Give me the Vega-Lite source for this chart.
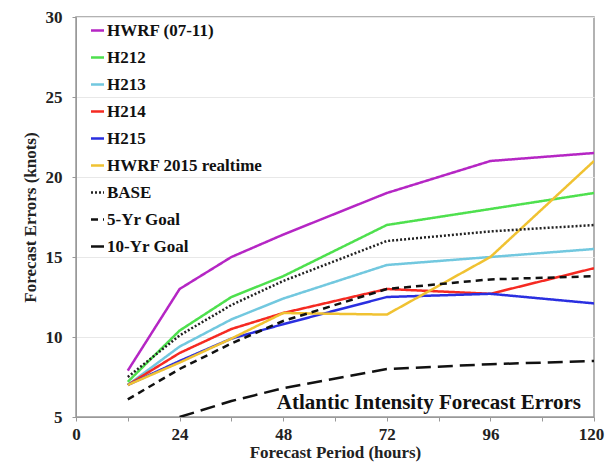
{
  "$schema": "https://vega.github.io/schema/vega-lite/v6.json",
  "width": 518,
  "height": 400,
  "autosize": {"type": "none"},
  "padding": {"left": 76, "top": 17, "right": 11, "bottom": 49},
  "background": "white",
  "config": {
    "view": {"stroke": "#999999", "strokeWidth": 1.5},
    "font": "Liberation Serif, serif",
    "axis": {"labelFont": "Liberation Serif, serif", "titleFont": "Liberation Serif, serif", "labelFontWeight": "bold", "titleFontWeight": "bold", "labelColor": "#222", "titleColor": "#222", "domainColor": "#999999", "tickColor": "#999999"}
  },
  "data": {"values": [
    {"series": "HWRF (07-11)", "hour": 12, "value": 7.9},
    {"series": "HWRF (07-11)", "hour": 24, "value": 13.0},
    {"series": "HWRF (07-11)", "hour": 36, "value": 15.0},
    {"series": "HWRF (07-11)", "hour": 48, "value": 16.4},
    {"series": "HWRF (07-11)", "hour": 72, "value": 19.0},
    {"series": "HWRF (07-11)", "hour": 96, "value": 21.0},
    {"series": "HWRF (07-11)", "hour": 120, "value": 21.5},
    {"series": "H212", "hour": 12, "value": 7.2},
    {"series": "H212", "hour": 24, "value": 10.4},
    {"series": "H212", "hour": 36, "value": 12.5},
    {"series": "H212", "hour": 48, "value": 13.8},
    {"series": "H212", "hour": 72, "value": 17.0},
    {"series": "H212", "hour": 96, "value": 18.0},
    {"series": "H212", "hour": 120, "value": 19.0},
    {"series": "H213", "hour": 12, "value": 7.0},
    {"series": "H213", "hour": 24, "value": 9.4},
    {"series": "H213", "hour": 36, "value": 11.1},
    {"series": "H213", "hour": 48, "value": 12.4},
    {"series": "H213", "hour": 72, "value": 14.5},
    {"series": "H213", "hour": 96, "value": 15.0},
    {"series": "H213", "hour": 120, "value": 15.5},
    {"series": "H214", "hour": 12, "value": 7.0},
    {"series": "H214", "hour": 24, "value": 9.0},
    {"series": "H214", "hour": 36, "value": 10.5},
    {"series": "H214", "hour": 48, "value": 11.5},
    {"series": "H214", "hour": 72, "value": 13.0},
    {"series": "H214", "hour": 96, "value": 12.7},
    {"series": "H214", "hour": 120, "value": 14.3},
    {"series": "H215", "hour": 12, "value": 7.0},
    {"series": "H215", "hour": 24, "value": 8.5},
    {"series": "H215", "hour": 36, "value": 9.9},
    {"series": "H215", "hour": 48, "value": 10.8},
    {"series": "H215", "hour": 72, "value": 12.5},
    {"series": "H215", "hour": 96, "value": 12.7},
    {"series": "H215", "hour": 120, "value": 12.1},
    {"series": "HWRF 2015 realtime", "hour": 12, "value": 7.0},
    {"series": "HWRF 2015 realtime", "hour": 24, "value": 8.4},
    {"series": "HWRF 2015 realtime", "hour": 36, "value": 9.9},
    {"series": "HWRF 2015 realtime", "hour": 48, "value": 11.5},
    {"series": "HWRF 2015 realtime", "hour": 72, "value": 11.4},
    {"series": "HWRF 2015 realtime", "hour": 96, "value": 15.0},
    {"series": "HWRF 2015 realtime", "hour": 120, "value": 21.0},
    {"series": "BASE", "hour": 12, "value": 7.5},
    {"series": "BASE", "hour": 24, "value": 10.1},
    {"series": "BASE", "hour": 36, "value": 12.0},
    {"series": "BASE", "hour": 48, "value": 13.5},
    {"series": "BASE", "hour": 72, "value": 16.0},
    {"series": "BASE", "hour": 96, "value": 16.6},
    {"series": "BASE", "hour": 120, "value": 17.0},
    {"series": "5-Yr Goal", "hour": 12, "value": 6.1},
    {"series": "5-Yr Goal", "hour": 24, "value": 8.0},
    {"series": "5-Yr Goal", "hour": 36, "value": 9.6},
    {"series": "5-Yr Goal", "hour": 48, "value": 11.0},
    {"series": "5-Yr Goal", "hour": 72, "value": 13.0},
    {"series": "5-Yr Goal", "hour": 96, "value": 13.6},
    {"series": "5-Yr Goal", "hour": 120, "value": 13.8},
    {"series": "10-Yr Goal", "hour": 24, "value": 5.0},
    {"series": "10-Yr Goal", "hour": 36, "value": 6.0},
    {"series": "10-Yr Goal", "hour": 48, "value": 6.8},
    {"series": "10-Yr Goal", "hour": 72, "value": 8.0},
    {"series": "10-Yr Goal", "hour": 96, "value": 8.3},
    {"series": "10-Yr Goal", "hour": 120, "value": 8.5}
  ]},
  "layer": [
    {
      "mark": {"type": "line", "strokeWidth": 2.5, "clip": true},
      "encoding": {
        "x": {"field": "hour", "type": "quantitative",
          "scale": {"domain": [0, 120], "nice": false, "zero": false},
          "axis": {"title": "Forecast Period (hours)", "titleFontSize": 17, "labelFontSize": 17, "values": [0,6,12,18,24,30,36,42,48,54,60,66,72,78,84,90,96,102,108,114,120], "labelExpr": "datum.value % 24 == 0 ? datum.label : ''", "grid": false, "tickSize": 4, "labelPadding": 5, "titlePadding": 2, "labelFlush": false, "labelOverlap": false,
            "labelOffset": {"expr": "datum.value == 120 ? -3 : 0"}}},
        "y": {"field": "value", "type": "quantitative",
          "scale": {"domain": [5, 30], "nice": false, "zero": false},
          "axis": {"title": "Forecast Errors (knots)", "titleFontSize": 17, "labelFontSize": 17, "values": [5,10,15,20,25,30], "grid": true, "gridColor": "#e8e8e8", "tickSize": 4, "labelPadding": 10, "titlePadding": 6}},
        "color": {"field": "series", "type": "nominal",
          "scale": {"domain": ["HWRF (07-11)", "H212", "H213", "H214", "H215", "HWRF 2015 realtime", "BASE", "5-Yr Goal", "10-Yr Goal"],
                    "range": ["#b526c4", "#4ee04e", "#72c8df", "#f52a22", "#2a2fe0", "#f0c232", "#222222", "#111111", "#111111"]},
          "legend": {"title": null, "orient": "none", "legendX": 13, "legendY": 5, "labelFont": "Liberation Serif, serif", "labelFontWeight": "bold", "labelFontSize": 17, "labelColor": "#111", "symbolType": "stroke", "symbolSize": 169, "symbolStrokeWidth": 2.5, "rowPadding": 9, "labelOffset": 1, "padding": 0}},
        "strokeDash": {"field": "series", "type": "nominal",
          "scale": {"domain": ["HWRF (07-11)", "H212", "H213", "H214", "H215", "HWRF 2015 realtime", "BASE", "5-Yr Goal", "10-Yr Goal"],
                    "range": [[1,0],[1,0],[1,0],[1,0],[1,0],[1,0],[2,2],[7,5],[15,7]]},
          "legend": {"title": null, "orient": "none", "legendX": 13, "legendY": 5, "labelFont": "Liberation Serif, serif", "labelFontWeight": "bold", "labelFontSize": 17, "labelColor": "#111", "symbolType": "stroke", "symbolSize": 169, "symbolStrokeWidth": 2.5, "rowPadding": 9, "labelOffset": 1, "padding": 0}},
        "strokeWidth": {"condition": {"test": "datum.series == 'BASE'", "value": 1.5}, "value": 2.5},
        "order": {"field": "hour", "type": "quantitative"}
      }
    },
    {
      "data": {"values": [{"label": "Atlantic Intensity Forecast Errors", "hour": 117, "value": 5.9}]},
      "mark": {"type": "text", "align": "right", "baseline": "middle", "font": "Liberation Serif, serif", "fontWeight": "bold", "fontSize": 21, "color": "#111"},
      "encoding": {
        "x": {"field": "hour", "type": "quantitative"},
        "y": {"field": "value", "type": "quantitative"},
        "text": {"field": "label"}
      }
    }
  ]
}
